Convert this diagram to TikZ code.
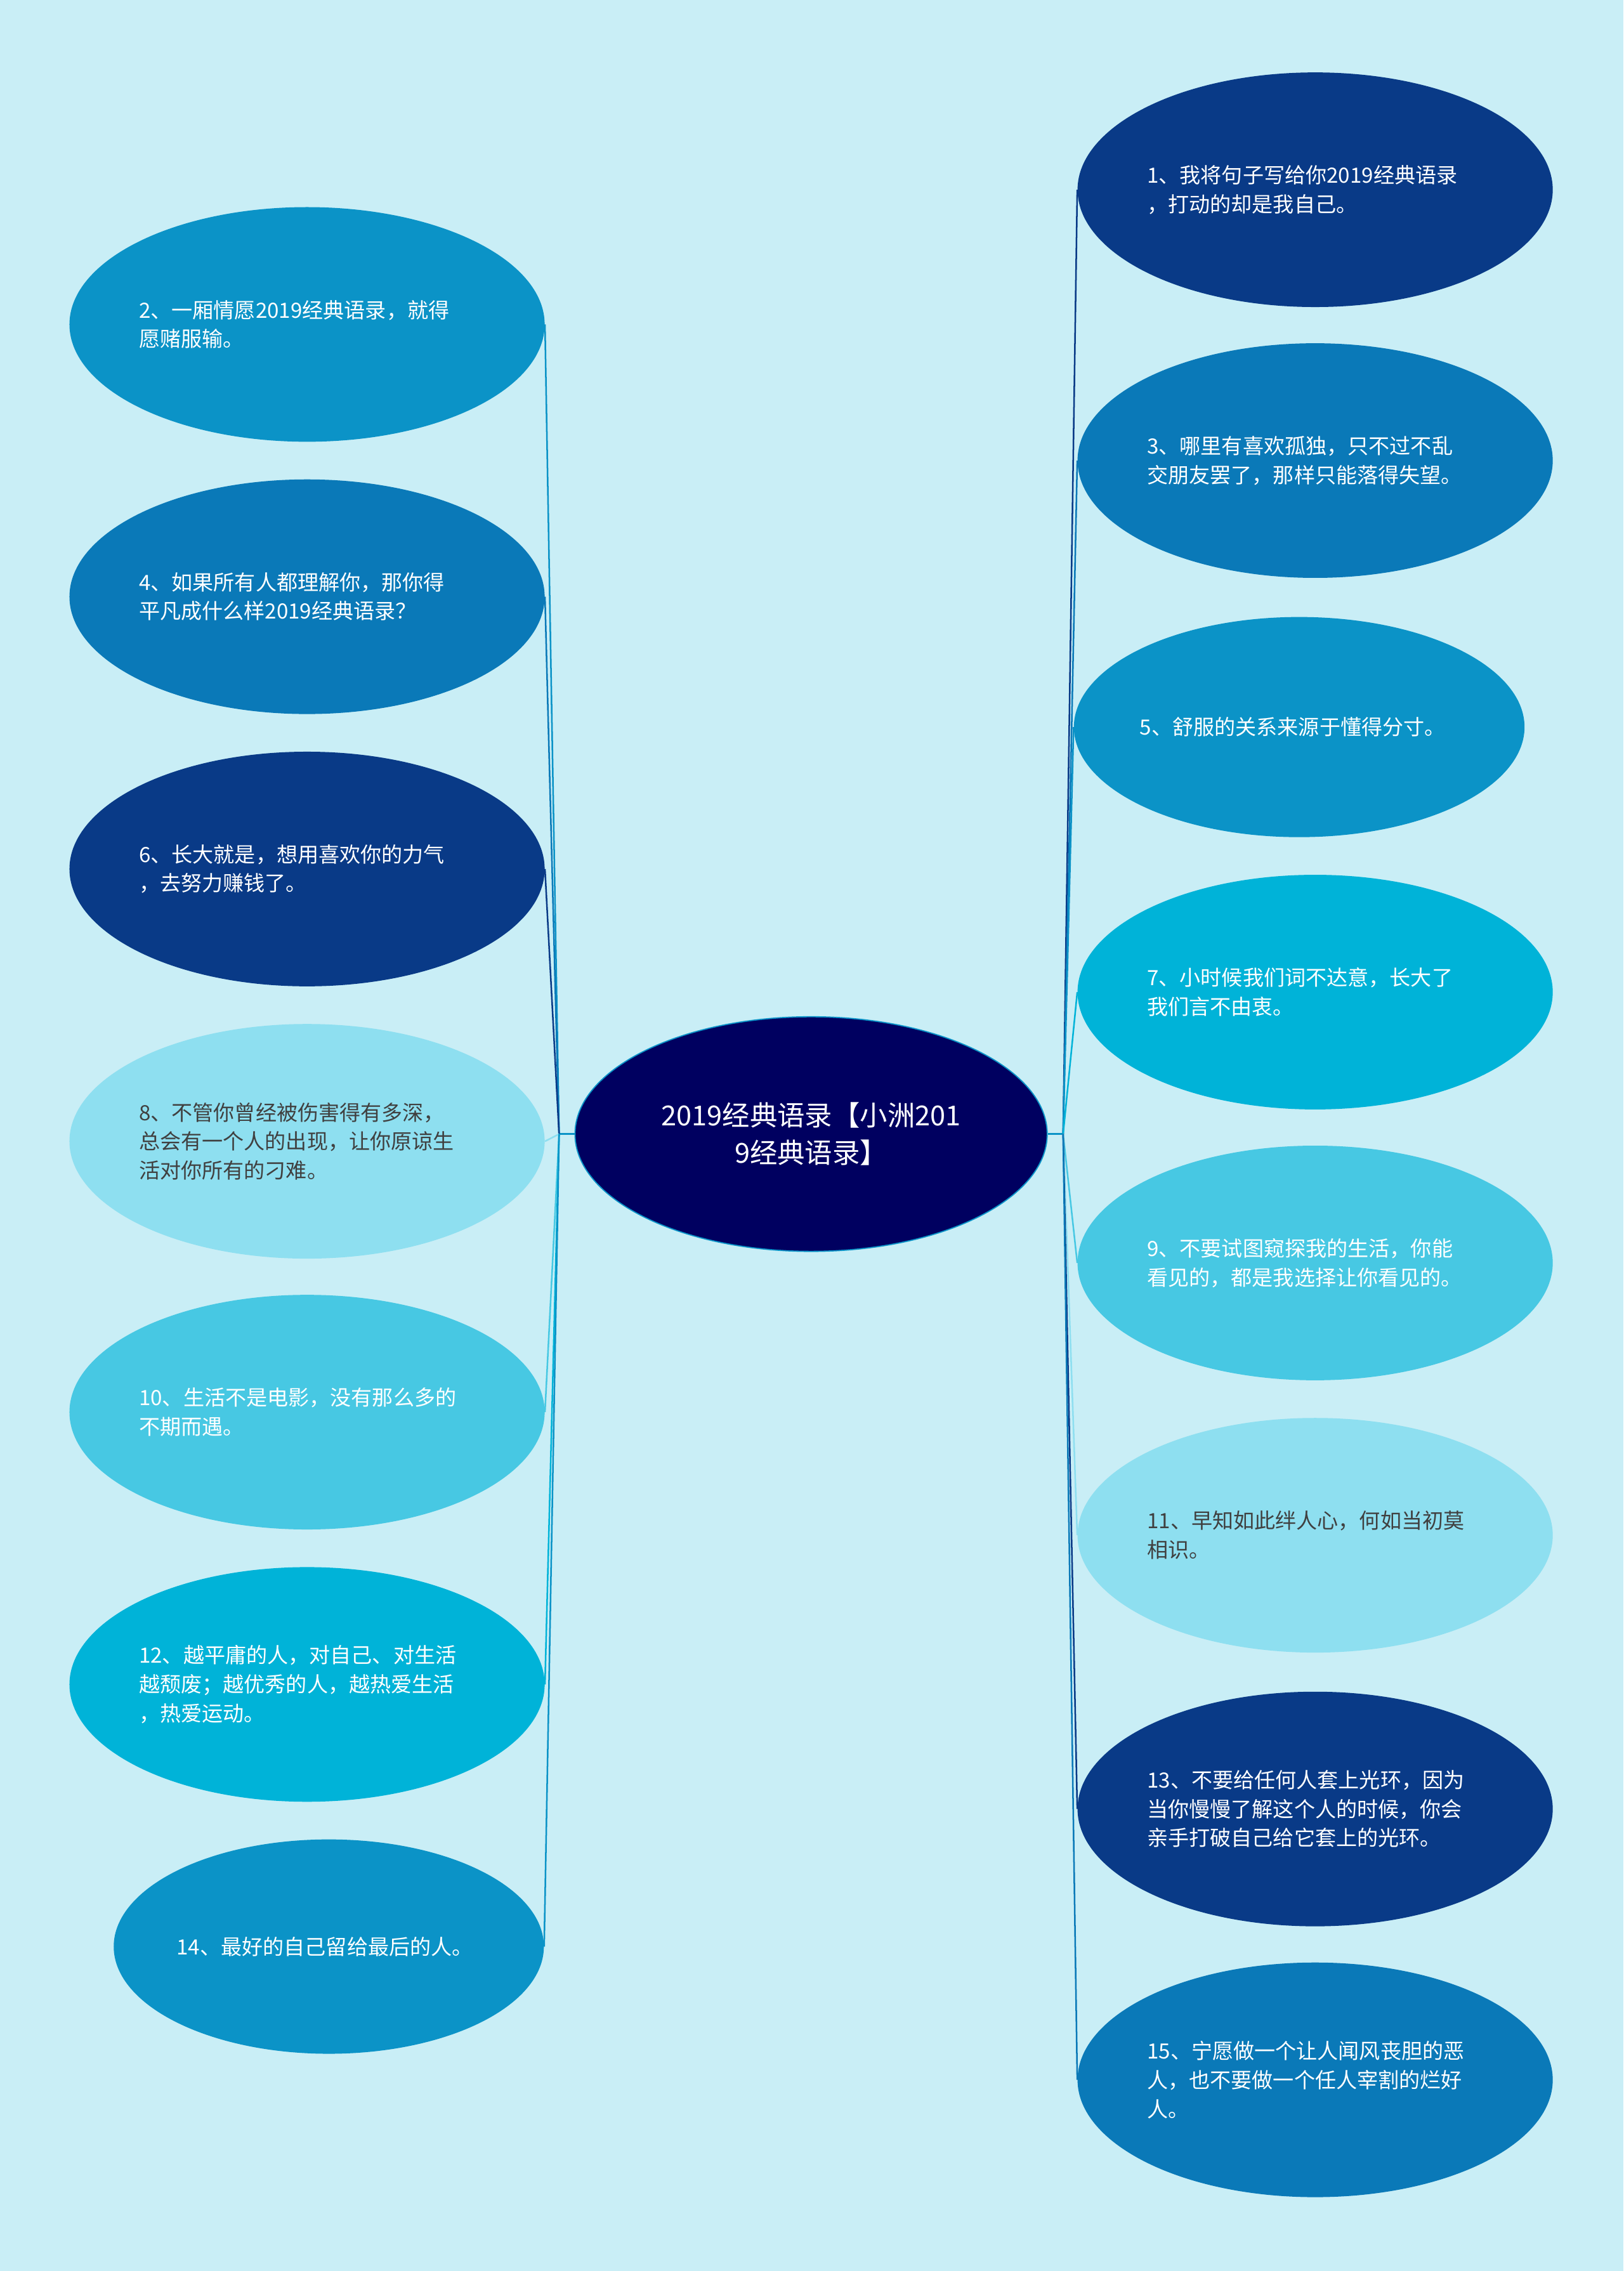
\documentclass[tikz,border=0pt]{standalone}
\usepackage{fontspec}
\setmainfont{Noto Sans CJK SC}
\usetikzlibrary{shapes.geometric}
\definecolor{bg}{HTML}{C9EEF6}
\definecolor{cnavy}{HTML}{000060}
\definecolor{cdark}{HTML}{093A87}
\definecolor{cmid}{HTML}{0A79B8}
\definecolor{cblue}{HTML}{0B93C7}
\definecolor{ccyan}{HTML}{00B3D8}
\definecolor{clight}{HTML}{47C8E3}
\definecolor{cpale}{HTML}{8EDFF0}
\begin{document}
\begin{tikzpicture}[x=1pt,y=-1pt,
  leaf/.style={ellipse,minimum width=325pt,minimum height=162pt,inner sep=0pt,font=\fontsize{14.5}{20}\selectfont,text=white,align=left,text width=232pt},
  conn/.style={line width=1.1pt}]
\fill[bg] (0,0) rectangle (1121,1568);
\node[ellipse,fill=cnavy,draw=cblue,line width=0.8pt,minimum width=326pt,minimum height=162pt,text=white,font=\fontsize{19}{26}\selectfont,align=center] (c) at (560,783) {2019经典语录【小洲201\\9经典语录】};
\coordinate (lj) at (386,783);
\coordinate (rj) at (734,783);
\draw[conn,cblue] (c.west) -- (lj); \draw[conn,cblue] (c.east) -- (rj);
% left
\node[leaf,fill=cblue] (n2) at (212,224) {2、一厢情愿2019经典语录，就得\\愿赌服输。};
\node[leaf,fill=cmid] (n4) at (212,412) {4、如果所有人都理解你，那你得\\平凡成什么样2019经典语录？};
\node[leaf,fill=cdark] (n6) at (212,600) {6、长大就是，想用喜欢你的力气\\，去努力赚钱了。};
\node[leaf,fill=cpale,text=black!75] (n8) at (212,788) {8、不管你曾经被伤害得有多深，\\总会有一个人的出现，让你原谅生\\活对你所有的刁难。};
\node[leaf,fill=clight] (n10) at (212,975) {10、生活不是电影，没有那么多的\\不期而遇。};
\node[leaf,fill=ccyan] (n12) at (212,1163) {12、越平庸的人，对自己、对生活\\越颓废；越优秀的人，越热爱生活\\，热爱运动。};
\node[leaf,fill=cblue,minimum width=296pt,minimum height=148pt,text width=210pt] (n14) at (227,1344) {14、最好的自己留给最后的人。};
% right
\node[leaf,fill=cdark] (n1) at (908,131) {1、我将句子写给你2019经典语录\\，打动的却是我自己。};
\node[leaf,fill=cmid] (n3) at (908,318) {3、哪里有喜欢孤独，只不过不乱\\交朋友罢了，那样只能落得失望。};
\node[leaf,fill=cblue,minimum width=304pt,minimum height=152pt,text width=220pt] (n5) at (897,502) {5、舒服的关系来源于懂得分寸。};
\node[leaf,fill=ccyan] (n7) at (908,685) {7、小时候我们词不达意，长大了\\我们言不由衷。};
\node[leaf,fill=clight] (n9) at (908,872) {9、不要试图窥探我的生活，你能\\看见的，都是我选择让你看见的。};
\node[leaf,fill=cpale,text=black!75] (n11) at (908,1060) {11、早知如此绊人心，何如当初莫\\相识。};
\node[leaf,fill=cdark] (n13) at (908,1249) {13、不要给任何人套上光环，因为\\当你慢慢了解这个人的时候，你会\\亲手打破自己给它套上的光环。};
\node[leaf,fill=cmid] (n15) at (908,1436) {15、宁愿做一个让人闻风丧胆的恶\\人，也不要做一个任人宰割的烂好\\人。};
\foreach \n/\col in {n2/cblue,n4/cmid,n6/cdark,n8/cpale,n10/clight,n12/ccyan,n14/cblue}
  \draw[conn,\col] (lj) -- (\n.east);
\foreach \n/\col in {n1/cdark,n3/cmid,n5/cblue,n7/ccyan,n9/clight,n11/cpale,n13/cdark,n15/cmid}
  \draw[conn,\col] (rj) -- (\n.west);
\end{tikzpicture}
\end{document}
